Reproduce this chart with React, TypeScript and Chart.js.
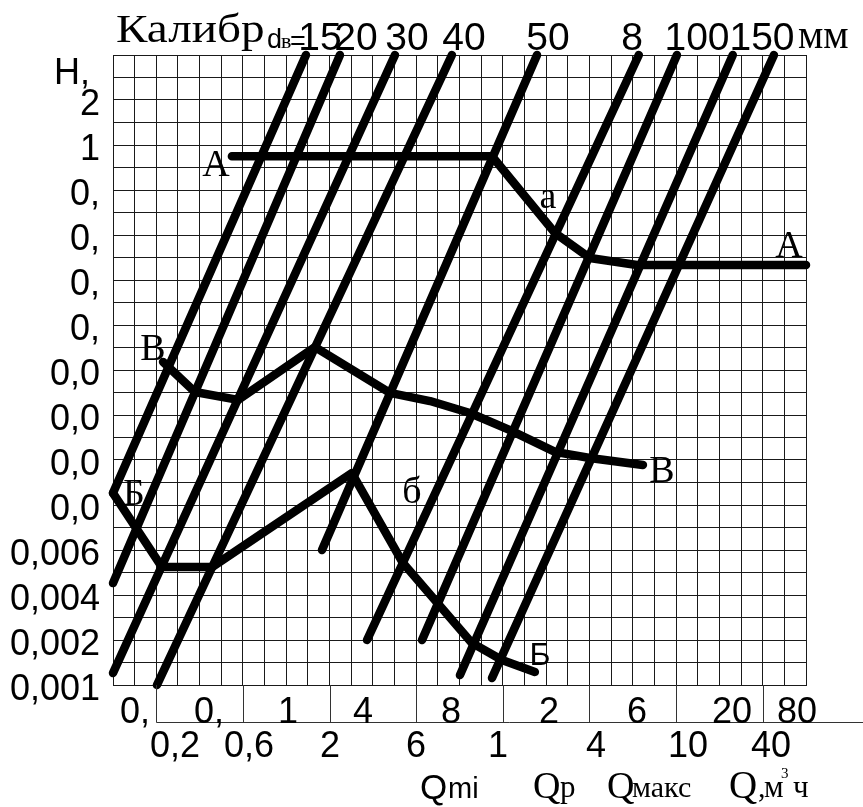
import React, { useEffect, useRef } from 'react';
import { Chart, registerables } from 'chart.js';

Chart.register(...registerables);

// Caliber lines (d_в), grid units: x 0..32 columns, y 0..28 rows
const caliberLabels = ['15', '20', '30', '40', '50', '8', '100', '150'];
const caliberTopX = [8.91, 10.48, 13.02, 15.65, 19.58, 24.28, 26.04, 28.62, 30.52];
const caliberTopY = [28, 28, 28, 28, 28, 28, 28, 28, 28];
const caliberBottomX = [0, 0, 0, 2.03, 9.65, 11.73, 14.27, 16.02, 17.5];
const caliberBottomY = [8.53, 4.53, 0.53, 0, 6.0, 2.0, 2.0, 0.44, 0.31];

// Curve А
const curveAX = [5.49, 17.5, 20.41, 22.02, 24.19, 32];
const curveAY = [23.5, 23.5, 20.09, 18.98, 18.67, 18.67];
// Curve В
const curveVX = [2.31, 3.79, 5.77, 9.33, 12.79, 14.64, 16.48, 18.33, 20.41, 22.02, 24.47];
const curveVY = [14.36, 13.02, 12.67, 15.02, 12.98, 12.62, 12.09, 11.33, 10.36, 10.09, 9.78];
// Curve Б
const curveBX = [0, 2.26, 4.57, 11.03, 13.39, 16.57, 17.96, 19.48];
const curveBY = [8.53, 5.24, 5.24, 9.42, 5.42, 1.87, 1.11, 0.58];

// Y tick labels from top (value 26) downward by 2
const yTickLabels = ['2', '1', '0,', '0,', '0,', '0,', '0,0', '0,0', '0,0', '0,0', '0,006', '0,004', '0,002', '0,001'];
// Bottom scales
const qRow1Labels = ['0,', '0,', '1', '4', '8', '2', '6', '20', '80'];
const qRow2Labels = ['0,2', '0,6', '2', '6', '1', '4', '10', '40'];
const qSeparatorValues = [2, 6, 10, 14, 18, 22, 26, 30];

const SANS = '"Liberation Sans", Arial, sans-serif';
const SERIF = '"Liberation Serif", "Times New Roman", serif';

function yLabelFor(v: number): string {
  if (v % 2 !== 0) return '';
  const idx = (26 - v) / 2;
  if (idx < 0 || idx >= yTickLabels.length) return '';
  return yTickLabels[idx];
}

function toPoints(xs: number[], ys: number[]) {
  return xs.map((x, i) => ({ x, y: ys[i] }));
}

const decorPlugin = {
  id: 'nomogramDecor',
  afterDraw(chart: any) {
    const ctx = chart.ctx as CanvasRenderingContext2D;
    const xs = chart.scales.x;
    const area = chart.chartArea;
    const text = (t: string, x: number, y: number, font: string, align: CanvasTextAlign = 'center', sx = 1) => {
      ctx.save();
      ctx.font = font;
      ctx.fillStyle = '#000';
      ctx.textAlign = align;
      ctx.textBaseline = 'alphabetic';
      ctx.translate(x, y);
      ctx.scale(sx, 1);
      ctx.fillText(t, 0, 0);
      ctx.restore();
    };

    // Bottom Q scale frame
    ctx.save();
    ctx.strokeStyle = '#333';
    ctx.lineWidth = 1;
    const lineY = 722.5;
    ctx.beginPath();
    ctx.moveTo(Math.round(xs.getPixelForValue(qSeparatorValues[0])) + 0.5, lineY);
    ctx.lineTo(chart.width, lineY);
    qSeparatorValues.forEach((v) => {
      const px = Math.round(xs.getPixelForValue(v)) + 0.5;
      ctx.moveTo(px, area.bottom);
      ctx.lineTo(px, lineY);
    });
    ctx.stroke();
    ctx.restore();

    // Top title
    text('Калибр', 116, 42, `41px ${SERIF}`, 'left', 1.15);
    text('d', 267, 48, `27px ${SANS}`, 'left');
    text('в', 281, 48, `22px ${SERIF}`, 'left');
    text('=', 290, 50, `27px ${SANS}`, 'left');
    const calCenters = [320, 356, 407, 464, 548, 632, 697, 762];
    caliberLabels.forEach((l, i) => text(l, calCenters[i], 50, `39px ${SANS}`, 'center'));
    text('мм', 798, 48, `40px ${SERIF}`, 'left');

    // Y axis name
    text('Н,', 54, 84, `36px ${SANS}`, 'left');

    // Curve letters
    const letter = `38px ${SERIF}`;
    text('А', 216, 176, letter);
    text('а', 548, 208, letter);
    text('А', 789, 257, letter);
    text('В', 153, 360, letter);
    text('В', 662, 482, letter);
    text('Б', 134, 505, letter);
    text('б', 412, 503, letter);
    text('Б', 540, 665, `32px ${SANS}`);

    // Bottom rows
    const row1Centers = [135, 209, 288, 363, 451, 549, 637, 732, 797];
    qRow1Labels.forEach((l, i) => text(l, row1Centers[i], 723, `36px ${SANS}`, 'center'));
    const row2Centers = [175, 249, 330, 416, 498, 596, 688, 771];
    qRow2Labels.forEach((l, i) => text(l, row2Centers[i], 757, `36px ${SANS}`, 'center'));

    // Q captions
    text('Q', 420, 799, `35px ${SANS}`, 'left');
    text('mi', 448, 798, `29px ${SANS}`, 'left');
    text('Q', 533, 798, `38px ${SERIF}`, 'left');
    text('p', 560, 797, `31px ${SERIF}`, 'left');
    text('Q', 607, 798, `38px ${SERIF}`, 'left');
    text('макс', 632, 797, `30px ${SERIF}`, 'left');
    text('Q', 729, 798, `39px ${SERIF}`, 'left');
    text(',', 758, 797, `30px ${SERIF}`, 'left');
    text('м', 764, 797, `31px ${SERIF}`, 'left');
    text('3', 781, 778, `15px ${SERIF}`, 'left');
    text('ч', 793, 797, `31px ${SERIF}`, 'left');
  },
};

export default function App() {
  const ref = useRef<HTMLCanvasElement | null>(null);
  useEffect(() => {
    document.body.style.margin = '0';
    const canvas = ref.current;
    if (!canvas) return;
    const thick = {
      borderColor: '#000',
      borderWidth: 8.5,
      borderCapStyle: 'round',
      borderJoinStyle: 'round',
      pointRadius: 0,
      tension: 0,
      fill: false,
      clip: false,
    };
    const datasets: any[] = [];
    caliberTopX.forEach((tx, i) => {
      datasets.push({
        ...thick,
        label: 'd' + i,
        data: [
          { x: caliberBottomX[i], y: caliberBottomY[i] },
          { x: tx, y: caliberTopY[i] },
        ],
      });
    });
    datasets.push({ ...thick, label: 'А', data: toPoints(curveAX, curveAY) });
    datasets.push({ ...thick, label: 'В', data: toPoints(curveVX, curveVY) });
    datasets.push({ ...thick, label: 'Б', data: toPoints(curveBX, curveBY) });

    const gridColor = '#1a1a1a';
    const chart = new Chart(canvas, {
      type: 'line',
      data: { datasets },
      options: {
        animation: false,
        responsive: false,
        maintainAspectRatio: false,
        devicePixelRatio: 1,
        layout: { padding: { left: 0, top: 55, right: 57, bottom: 0 } },
        plugins: {
          legend: { display: false },
          tooltip: { enabled: false },
          title: { display: false },
        },
        scales: {
          x: {
            type: 'linear',
            min: 0,
            max: 32,
            ticks: { stepSize: 1, display: false, maxTicksLimit: 100 },
            grid: { color: gridColor, lineWidth: 1, drawTicks: false },
            border: { display: true, color: gridColor },
            afterFit: (s: any) => {
              s.height = 122;
              s.paddingLeft = 0;
              s.paddingRight = 0;
            },
          },
          y: {
            type: 'linear',
            min: 0,
            max: 28,
            ticks: {
              stepSize: 1,
              autoSkip: false,
              maxTicksLimit: 100,
              padding: 13,
              labelOffset: 5,
              color: '#000',
              font: { family: SANS, size: 36 },
              callback: (v: any) => yLabelFor(Number(v)),
            },
            grid: { color: gridColor, lineWidth: 1, drawTicks: false },
            border: { display: true, color: gridColor },
            afterFit: (s: any) => {
              s.width = 113;
            },
          },
        },
      } as any,
      plugins: [decorPlugin],
    });
    return () => chart.destroy();
  }, []);
  return (
    <div style={{ width: 863, height: 807, background: '#fff' }}>
      <canvas ref={ref} width={863} height={807} style={{ display: 'block', width: 863, height: 807 }} />
    </div>
  );
}
